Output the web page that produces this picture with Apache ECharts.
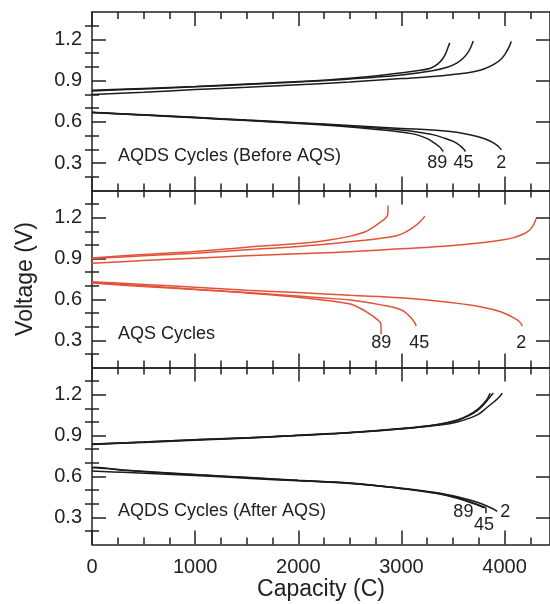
<!DOCTYPE html>
<html><head><meta charset="utf-8">
<script src="https://cdn.jsdelivr.net/npm/echarts@6/dist/echarts.min.js"></script>
<style>html,body{margin:0;padding:0;background:#fff}#c{width:550px;height:604px}</style>
</head><body><div id="c"></div>
<script>
// ---------- data ----------
const xTicks = [0, 1000, 2000, 3000, 4000];
const xMinorTicks = [250, 500, 750, 1250, 1500, 1750, 2250, 2500, 2750, 3250, 3500, 3750, 4250];
const yTicks = [0.3, 0.6, 0.9, 1.2];
const yMinorTicks = [0.2, 0.4, 0.5, 0.7, 0.8, 1.0, 1.1, 1.3];
const cycleNames = ['2', '45', '89'];
const panelTitles = ['AQDS Cycles (Before AQS)', 'AQS Cycles', 'AQDS Cycles (After AQS)'];
const xAxisTitle = 'Capacity (C)';
const yAxisTitle = 'Voltage (V)';

// Panel 1: AQDS before AQS
const p1ChargeC2 = [[0,0.80],[500,0.815],[1000,0.835],[1500,0.852],[2000,0.87],[2500,0.89],[3000,0.915],[3300,0.93],[3500,0.945],[3700,0.965],[3800,0.985],[3900,1.02],[3970,1.06],[4010,1.10],[4040,1.14],[4065,1.185]];
const p1ChargeC45 = [[0,0.825],[500,0.84],[1000,0.855],[1500,0.872],[2000,0.89],[2500,0.912],[3000,0.942],[3300,0.972],[3450,1.0],[3540,1.03],[3600,1.065],[3640,1.10],[3670,1.14],[3696,1.188]];
const p1ChargeC89 = [[0,0.83],[500,0.843],[1000,0.858],[1500,0.875],[2000,0.893],[2500,0.918],[2900,0.948],[3150,0.972],[3280,0.99],[3350,1.02],[3400,1.06],[3430,1.10],[3450,1.14],[3469,1.175]];
const p1DischargeC2 = [[0,0.67],[500,0.652],[1000,0.633],[1500,0.613],[2000,0.594],[2500,0.574],[3000,0.552],[3300,0.54],[3476,0.529],[3600,0.515],[3735,0.493],[3830,0.47],[3896,0.445],[3940,0.42],[3968,0.396]];
const p1DischargeC45 = [[0,0.668],[500,0.65],[1000,0.631],[1500,0.611],[2000,0.591],[2500,0.568],[3000,0.54],[3200,0.52],[3314,0.505],[3420,0.48],[3508,0.456],[3570,0.425],[3605,0.40],[3621,0.384]];
const p1DischargeC89 = [[0,0.668],[500,0.649],[1000,0.63],[1500,0.609],[2000,0.588],[2500,0.563],[2900,0.535],[3050,0.52],[3152,0.505],[3250,0.478],[3314,0.449],[3365,0.42],[3395,0.395],[3405,0.384]];

// Panel 2: AQS
const p2ChargeC2 = [[0,0.865],[500,0.885],[1000,0.903],[1500,0.92],[2000,0.935],[2500,0.95],[3000,0.972],[3476,0.995],[3800,1.018],[3961,1.035],[4080,1.052],[4188,1.082],[4240,1.108],[4270,1.135],[4290,1.163],[4304,1.193]];
const p2ChargeC45 = [[0,0.90],[500,0.92],[1000,0.94],[1500,0.965],[2000,0.988],[2500,1.023],[2893,1.059],[3000,1.08],[3120,1.132],[3180,1.17],[3227,1.212]];
const p2ChargeC89 = [[0,0.905],[500,0.93],[1000,0.952],[1500,0.984],[2000,1.01],[2300,1.037],[2505,1.065],[2650,1.097],[2731,1.132],[2800,1.17],[2850,1.20],[2868,1.225],[2870,1.29]];
const p2DischargeC2 = [[0,0.73],[500,0.71],[1000,0.69],[1500,0.668],[2000,0.65],[2505,0.63],[2990,0.612],[3476,0.578],[3700,0.555],[3864,0.53],[3961,0.51],[4050,0.48],[4139,0.44],[4172,0.404]];
const p2DischargeC45 = [[0,0.725],[500,0.70],[1000,0.675],[1500,0.65],[1922,0.628],[2200,0.613],[2505,0.595],[2800,0.56],[2990,0.526],[3060,0.49],[3120,0.44],[3143,0.404]];
const p2DischargeC89 = [[0,0.72],[500,0.695],[1000,0.672],[1500,0.648],[1922,0.622],[2300,0.59],[2505,0.566],[2600,0.535],[2699,0.49],[2760,0.455],[2800,0.42],[2803,0.344]];

// Panel 3: AQDS after AQS
const p3ChargeC2 = [[0,0.834],[500,0.85],[1049,0.868],[1534,0.882],[2000,0.9],[2505,0.921],[2990,0.948],[3346,0.975],[3541,1.0],[3735,1.052],[3832,1.108],[3900,1.15],[3950,1.185],[3977,1.212]];
const p3ChargeC45 = [[0,0.836],[500,0.852],[1049,0.871],[1534,0.884],[2000,0.902],[2505,0.922],[2990,0.95],[3346,0.98],[3541,1.011],[3650,1.045],[3735,1.084],[3800,1.13],[3850,1.175],[3890,1.212]];
const p3ChargeC89 = [[0,0.838],[500,0.853],[1049,0.872],[1534,0.885],[2000,0.903],[2505,0.923],[2990,0.952],[3346,0.982],[3541,1.015],[3650,1.05],[3735,1.09],[3800,1.14],[3832,1.169],[3860,1.212]];
const p3DischargeC2 = [[0,0.64],[300,0.63],[1049,0.605],[1534,0.585],[2000,0.568],[2505,0.548],[2990,0.515],[3346,0.48],[3541,0.45],[3735,0.41],[3850,0.375],[3929,0.344]];
const p3DischargeC45 = [[0,0.66],[30,0.668],[300,0.645],[1049,0.61],[1534,0.59],[2000,0.57],[2505,0.55],[2990,0.512],[3346,0.476],[3541,0.443],[3700,0.405],[3800,0.375],[3819,0.365],[3819,0.33]];
const p3DischargeC89 = [[0,0.665],[300,0.648],[1049,0.612],[1534,0.592],[2000,0.572],[2505,0.552],[2990,0.512],[3346,0.474],[3541,0.44],[3700,0.40],[3799,0.369]];

const panels = [
  {charge: [p1ChargeC2, p1ChargeC45, p1ChargeC89], discharge: [p1DischargeC2, p1DischargeC45, p1DischargeC89]},
  {charge: [p2ChargeC2, p2ChargeC45, p2ChargeC89], discharge: [p2DischargeC2, p2DischargeC45, p2DischargeC89]},
  {charge: [p3ChargeC2, p3ChargeC45, p3ChargeC89], discharge: [p3DischargeC2, p3DischargeC45, p3DischargeC89]}
];

// ---------- styles / layout ----------
const FONT = "'Liberation Sans', Arial, Helvetica, sans-serif";
const INK = '#222';
const panelColors = ['#1c1c1c', '#e2523a', '#1c1c1c'];
const gridTops = [12, 190.5, 367.5];
const gridHeights = [178.5, 177, 177];
const panelTitleY = [157, 335, 512];
// label offsets [dx, dy] per panel, ordered as cycleNames
const labelOffsets = [
  [[0, 13], [-2, 12], [-6, 12]],
  [[-1, 16.5], [3, 16.5], [0, 8.5]],
  [[8, 1], [-2, 12], [-20.5, 4]]
];
const XMIN = 0, XMAX = 4440, YMIN = 0.1, YMAX = 1.4;

const grid = [], xAxis = [], yAxis = [], series = [], graphic = [];
const lineStyle = {color: INK, width: 1.5};

panels.forEach((p, i) => {
  grid.push({left: 92, right: 0, top: gridTops[i], height: gridHeights[i]});
  const xi = xAxis.length;
  const isBottom = i === 2;
  ['bottom', 'top'].forEach(pos => {
    xAxis.push({
      gridIndex: i, type: 'value', min: XMIN, max: XMAX, position: pos,
      axisLine: {show: true, onZero: false, lineStyle},
      axisTick: {show: true, inside: true, length: 14, customValues: xTicks, lineStyle},
      axisLabel: {show: isBottom && pos === 'bottom', customValues: xTicks, margin: 13,
        formatter: v => String(v),
        fontSize: 20, color: INK, fontFamily: FONT},
      splitLine: {show: false},
      name: (isBottom && pos === 'bottom') ? xAxisTitle : '',
      nameLocation: 'middle', nameGap: 34,
      nameTextStyle: {fontSize: 23, color: INK, fontFamily: FONT}
    });
  });
  ['bottom', 'top'].forEach(pos => {
    xAxis.push({
      gridIndex: i, type: 'value', min: XMIN, max: XMAX, position: pos,
      axisLine: {show: false},
      axisTick: {show: true, inside: true, length: 7, customValues: xMinorTicks, lineStyle},
      axisLabel: {show: false}, splitLine: {show: false}
    });
  });
  const yi = yAxis.length;
  ['left', 'right'].forEach(pos => {
    yAxis.push({
      gridIndex: i, type: 'value', min: YMIN, max: YMAX, position: pos,
      axisLine: {show: true, onZero: false, lineStyle},
      axisTick: {show: true, inside: true, length: 14, customValues: yTicks, lineStyle},
      axisLabel: {show: pos === 'left', customValues: yTicks, margin: 10,
        formatter: v => v.toFixed(1), fontSize: 20, color: INK, fontFamily: FONT},
      splitLine: {show: false},
      name: (i === 1 && pos === 'left') ? yAxisTitle : '',
      nameLocation: 'middle', nameGap: 55,
      nameTextStyle: {fontSize: 23, color: INK, fontFamily: FONT}
    });
  });
  ['left', 'right'].forEach(pos => {
    yAxis.push({
      gridIndex: i, type: 'value', min: YMIN, max: YMAX, position: pos,
      axisLine: {show: false},
      axisTick: {show: true, inside: true, length: 7, customValues: yMinorTicks, lineStyle},
      axisLabel: {show: false}, splitLine: {show: false}
    });
  });

  const col = panelColors[i];
  p.charge.forEach((d) => {
    series.push({
      type: 'line', xAxisIndex: xi, yAxisIndex: yi, data: d, showSymbol: false,
      smooth: 0.4, lineStyle: {color: col, width: 1.5}, silent: true, z: 3
    });
  });
  p.discharge.forEach((d, k) => {
    series.push({
      type: 'line', xAxisIndex: xi, yAxisIndex: yi, data: d, showSymbol: false,
      smooth: 0.4, lineStyle: {color: col, width: 1.5}, silent: true, z: 3,
      markPoint: {
        silent: true, symbol: 'circle', symbolSize: 1,
        itemStyle: {color: 'rgba(0,0,0,0)'},
        label: {show: true, position: 'inside', formatter: cycleNames[k],
          offset: labelOffsets[i][k], fontSize: 18, color: INK, fontFamily: FONT},
        data: [{coord: d[d.length - 1]}]
      }
    });
  });

  graphic.push({
    type: 'text', left: 118, top: panelTitleY[i] - 10,
    style: {text: panelTitles[i], fontSize: 18, fill: INK, fontFamily: FONT}
  });
});

const chart = echarts.init(document.getElementById('c'), null, {renderer: 'canvas'});
chart.setOption({
  animation: false,
  backgroundColor: '#fff',
  grid, xAxis, yAxis, series, graphic
});
</script>
</body></html>
